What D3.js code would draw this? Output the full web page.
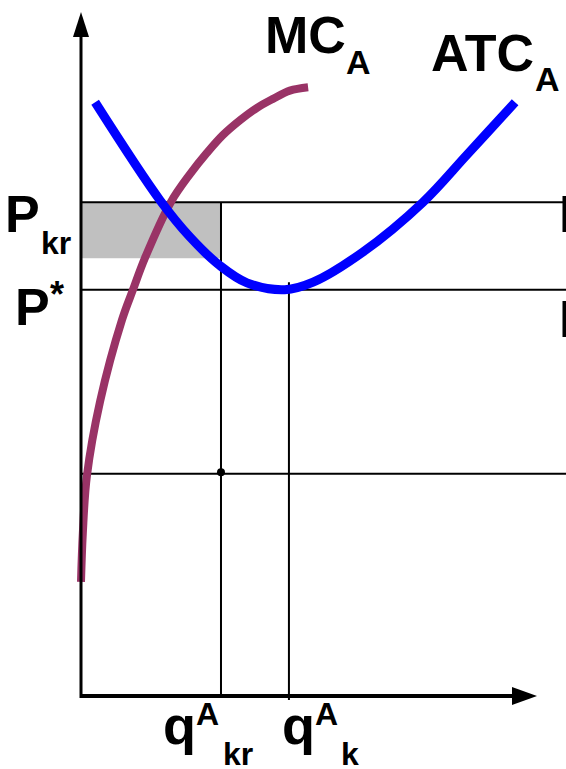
<!DOCTYPE html>
<html>
<head>
<meta charset="utf-8">
<script src="https://cdn.jsdelivr.net/npm/d3@7"></script>
<style>
html,body{margin:0;padding:0;background:#fff;overflow:hidden;}
svg{display:block;}
text{font-family:"Liberation Sans",Arial,Helvetica,sans-serif;font-weight:bold;fill:#000;}
</style>
</head>
<body>
<svg id="chart" width="566" height="769"></svg>
<script>
// ---- data (chart units: quantity q, price P) ----
const atcQ = [0.31, 1.73, 2.39, 3.05, 3.64, 4.47, 5.09, 6.18, 7.50, 8.46, 9.52];
const atcP = [8.68, 7.25, 6.71, 6.29, 6.04, 5.94, 6.05, 6.49, 7.22, 7.91, 8.68];
const mcQ  = [0.00, 0.04, 0.13, 0.42, 0.90, 1.14, 1.40, 1.97, 2.39, 2.76, 3.11, 3.49, 3.86, 4.21, 4.58, 4.98];
const mcP  = [1.67, 2.38, 3.22, 4.31, 5.50, 5.94, 6.40, 7.22, 7.63, 7.94, 8.20, 8.42, 8.60, 8.73, 8.85, 8.90];
const priceLevels = [7.22, 5.94, 3.25];       // Pkr, P*, lower price line
const quantityLevels = [3.07, 4.56];          // q^A_kr, q^A_k
const quantityLineTop = [7.22, 6.05];
const lossBox = {q0: 0, q1: 3.07, p0: 6.40, p1: 7.22};
const dotPoint = [3.07, 3.27];
const priceLabels = [{main: "P", sub: "kr"}, {main: "P", sup: "*"}];
const quantityLabels = [{main: "q", sup: "A", sub: "kr"}, {main: "q", sup: "A", sub: "k"}];
const curveLabels = [{main: "MC", sub: "A"}, {main: "ATC", sub: "A"}];

// ---- scales ----
const W = 566, H = 769;
const x = d3.scaleLinear().domain([0, 10]).range([81, 537]);
const y = d3.scaleLinear().domain([0, 10]).range([696, 12]);
const svg = d3.select("#chart");

// loss rectangle
svg.append("rect")
  .attr("x", x(lossBox.q0)).attr("y", y(lossBox.p1))
  .attr("width", x(lossBox.q1) - x(lossBox.q0))
  .attr("height", y(lossBox.p0) - y(lossBox.p1))
  .attr("fill", "#c0c0c0");

// horizontal price lines
svg.selectAll("line.h").data(priceLevels).join("line")
  .attr("class", "h")
  .attr("x1", x(0)).attr("x2", (d, i) => i === 0 ? 563 : W)
  .attr("y1", d => y(d)).attr("y2", d => y(d))
  .attr("stroke", "#000").attr("stroke-width", 2);

// vertical quantity lines
svg.selectAll("line.v").data(quantityLevels).join("line")
  .attr("class", "v")
  .attr("x1", d => x(d)).attr("x2", d => x(d))
  .attr("y1", (d, i) => y(quantityLineTop[i]))
  .attr("y2", (d, i) => i === 0 ? y(0) : y(0) + 4)
  .attr("stroke", "#000").attr("stroke-width", 2);

// dot
svg.append("circle")
  .attr("cx", x(dotPoint[0])).attr("cy", y(dotPoint[1])).attr("r", 4)
  .attr("fill", "#000");

// curves
const line = d3.line().x(d => x(d[0])).y(d => y(d[1])).curve(d3.curveCatmullRom.alpha(0.5));
svg.append("path")
  .attr("d", line(mcQ.map((q, i) => [q, mcP[i]])))
  .attr("fill", "none").attr("stroke", "#993366").attr("stroke-width", 8).attr("stroke-linecap", "butt");
svg.append("path")
  .attr("d", line(atcQ.map((q, i) => [q, atcP[i]])))
  .attr("fill", "none").attr("stroke", "#0000ff").attr("stroke-width", 9).attr("stroke-linecap", "butt");

// axes
svg.append("line").attr("x1", x(0)).attr("x2", x(0)).attr("y1", y(0) + 2).attr("y2", 30)
  .attr("stroke", "#000").attr("stroke-width", 3);
svg.append("line").attr("x1", x(0) - 1).attr("x2", 515).attr("y1", y(0)).attr("y2", y(0))
  .attr("stroke", "#000").attr("stroke-width", 4);
svg.append("path").attr("d", `M${x(0)},${y(10)} L${x(0) - 8},37 L${x(0) + 8},37 Z`).attr("fill", "#000");
svg.append("path").attr("d", `M${x(10)},${y(0)} L512,${y(0) - 9} L512,${y(0) + 9} Z`).attr("fill", "#000");

// labels
function label(xm, ym, spec, mainSize, subSize, opts) {
  const g = svg.append("g");
  g.append("text").attr("x", xm).attr("y", ym).attr("font-size", mainSize).text(spec.main);
  if (spec.sup) g.append("text").attr("x", opts.supX).attr("y", opts.supY).attr("font-size", subSize).text(spec.sup);
  if (spec.sub) g.append("text").attr("x", opts.subX).attr("y", opts.subY).attr("font-size", subSize).text(spec.sub);
}
// price labels
label(5, 232, priceLabels[0], 52, 32, {subX: 41, subY: 254});
label(15, 325, priceLabels[1], 52, 36, {supX: 50, supY: 307});
// curve labels
label(265, 53, curveLabels[0], 52, 34, {subX: 346, subY: 74});
label(431, 71, curveLabels[1], 52, 34, {subX: 535, subY: 91});
// quantity labels
label(163, 744, quantityLabels[0], 54, 32, {supX: 196, supY: 725, subX: 223, subY: 765});
label(282, 744, quantityLabels[1], 54, 32, {supX: 315, supY: 725, subX: 341, subY: 765});
// cut-off glyphs at the right edge
svg.selectAll("text.edge").data([232, 337]).join("text")
  .attr("class", "edge").attr("x", 559).attr("y", d => d).attr("font-size", 52).text("P");
</script>
</body>
</html>
